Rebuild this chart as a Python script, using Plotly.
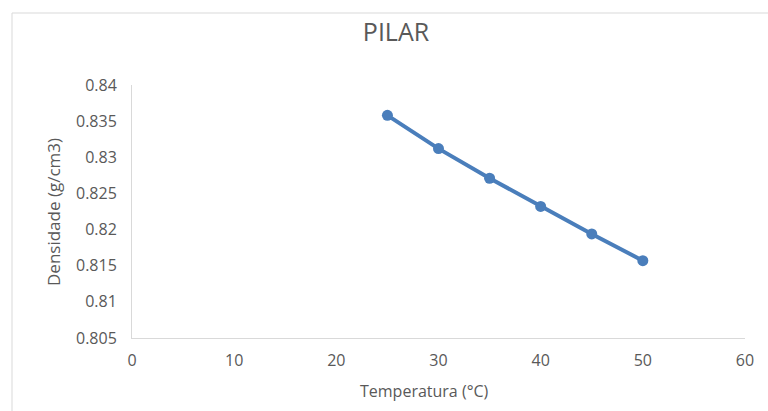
import plotly.graph_objects as go

temperatura = [25, 30, 35, 40, 45, 50]
densidade = [0.8358, 0.8312, 0.8271, 0.8232, 0.8194, 0.8157]
y_ticks = [0.805, 0.81, 0.815, 0.82, 0.825, 0.83, 0.835, 0.84]
y_tick_text = ["0.805", "0.81", "0.815", "0.82", "0.825", "0.83", "0.835", "0.84"]
x_ticks = [0, 10, 20, 30, 40, 50, 60]

W, H = 768, 411
L, R, T, B = 132, 23, 85, 73
pw, ph = W - L - R, H - T - B

def px2x(px):
    return (px - L) / pw

def py2y(py):
    return (H - B - py) / ph

grey = "#595959"
font = "Open Sans"

fig = go.Figure()
fig.add_trace(go.Scatter(
    x=temperatura, y=densidade, mode="lines+markers",
    line=dict(color="#4a7ebb", width=4),
    marker=dict(color="#4a7ebb", size=11),
    showlegend=False,
))

fig.update_layout(
    width=W, height=H,
    margin=dict(l=L, r=R, t=T, b=B),
    paper_bgcolor="white", plot_bgcolor="white",
    font=dict(family=font, color=grey, size=13),
    title=dict(text="PILAR", x=396 / W, xref="container", xanchor="center",
               y=1 - 32 / H, yref="container", yanchor="middle",
               font=dict(size=25, color=grey, family=font)),
    xaxis=dict(range=[0, 60], tickvals=x_ticks, showgrid=False, zeroline=False,
               showline=True, linecolor="#d9d9d9", linewidth=1, ticks="",
               ticklabelstandoff=8, tickfont=dict(size=16, color=grey)),
    yaxis=dict(range=[0.805, 0.84], tickvals=y_ticks, ticktext=y_tick_text,
               showgrid=False, zeroline=False,
               showline=True, linecolor="#d9d9d9", linewidth=1, ticks="",
               ticklabelstandoff=11, tickfont=dict(size=16, color=grey)),
    annotations=[
        dict(text="Temperatura (°C)", xref="paper", yref="paper",
             x=px2x(424), y=py2y(391), xanchor="center", yanchor="middle",
             showarrow=False, font=dict(size=16, color=grey, family=font)),
        dict(text="Densidade (g/cm3)", xref="paper", yref="paper",
             x=px2x(53), y=py2y(212), xanchor="center", yanchor="middle",
             textangle=-90,
             showarrow=False, font=dict(size=17, color=grey, family=font)),
    ],
    shapes=[dict(type="rect", xref="paper", yref="paper",
                 x0=px2x(12), x1=px2x(W + 20), y0=py2y(H + 20), y1=py2y(13),
                 line=dict(color="#d9d9d9", width=1), fillcolor="rgba(0,0,0,0)",
                 layer="below")],
)

fig.write_html("out.html")
